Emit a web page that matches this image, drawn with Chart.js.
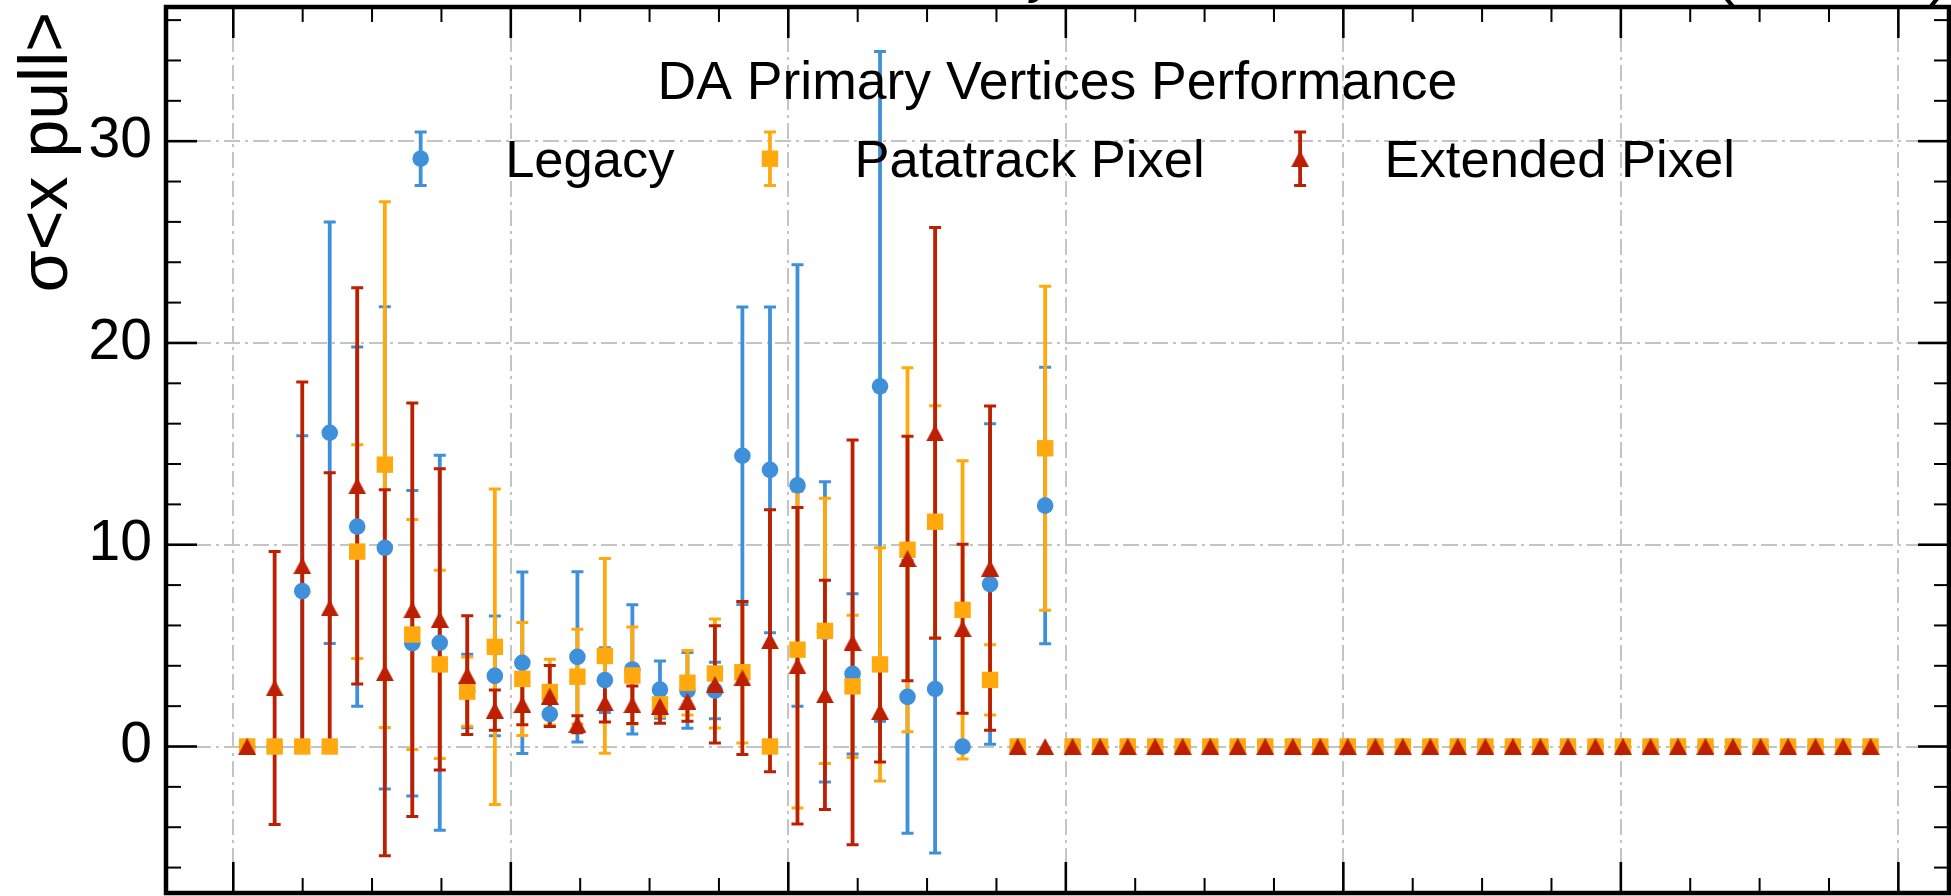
<!DOCTYPE html>
<html>
<head>
<meta charset="utf-8">
<title>DA Primary Vertices Performance</title>
<script src="https://cdn.jsdelivr.net/npm/chart.js@4.4.1/dist/chart.umd.min.js"></script>
<style>
  html, body { margin: 0; padding: 0; background: #fff; }
  #wrap { width: 1951px; height: 896px; }
</style>
</head>
<body>
<div id="wrap"><canvas id="pvChart" width="1951" height="896"></canvas></div>
<script>
// --- DATA ---
const binCenters = [
  1.00, 2.98, 4.97, 6.95, 8.93, 10.92, 12.90, 14.88, 16.86, 18.85,
  20.83, 22.81, 24.80, 26.78, 28.76, 30.75, 32.73, 34.71, 36.69, 38.68,
  40.66, 42.64, 44.63, 46.61, 48.59, 50.58, 52.56, 54.54, 56.53, 58.51,
  60.49, 62.47, 64.46, 66.44, 68.42, 70.41, 72.39, 74.37, 76.36, 78.34,
  80.32, 82.31, 84.29, 86.27, 88.25, 90.24, 92.22, 94.20, 96.19, 98.17,
  100.15, 102.14, 104.12, 106.10, 108.08, 110.07, 112.05, 114.03, 116.02, 118.00
];

const legacyVals = [
  0, 0, 7.7, 15.55, 10.9, 9.85, 5.12, 5.14, 2.75, 3.5,
  4.15, 1.6, 4.44, 3.29, 3.82, 2.82, 2.78, 2.77, 14.41, 13.71,
  12.94, 5.68, 3.6, 17.85, 2.46, 2.85, 0, 8.05, 0, 11.94,
  0, 0, 0, 0, 0, 0, 0, 0, 0, 0,
  0, 0, 0, 0, 0, 0, 0, 0, 0, 0,
  0, 0, 0, 0, 0, 0, 0, 0, 0, 0
];
const legacyErr = [
  0, 0, 7.7, 10.45, 8.9, 11.95, 7.57, 9.29, 1.82, 2.97,
  4.5, 0.6, 4.22, 1.61, 3.2, 1.42, 1.88, 1.4, 7.37, 8.07,
  10.94, 7.44, 3.97, 16.6, 6.76, 8.13, 0, 7.94, 0, 6.85,
  0, 0, 0, 0, 0, 0, 0, 0, 0, 0,
  0, 0, 0, 0, 0, 0, 0, 0, 0, 0,
  0, 0, 0, 0, 0, 0, 0, 0, 0, 0
];

const patatrackVals = [
  0, 0, 0, 0, 9.66, 13.97, 5.55, 4.07, 2.72, 4.94,
  3.35, 2.7, 3.46, 4.49, 3.52, 2.09, 3.16, 3.62, 3.68, 0,
  4.8, 5.73, 2.98, 4.07, 9.75, 11.14, 6.77, 3.3, 0, 14.78,
  0, 0, 0, 0, 0, 0, 0, 0, 0, 0,
  0, 0, 0, 0, 0, 0, 0, 0, 0, 0,
  0, 0, 0, 0, 0, 0, 0, 0, 0, 0
];
const patatrackErr = [
  0, 0, 0, 0, 5.3, 13.03, 5.7, 4.66, 1.72, 7.82,
  2.8, 1.63, 2.35, 4.83, 2.4, 0.6, 1.6, 2.7, 3.5, 0,
  7.85, 6.57, 3.53, 5.78, 9.02, 5.75, 7.39, 1.74, 0, 8.03,
  0, 0, 0, 0, 0, 0, 0, 0, 0, 0,
  0, 0, 0, 0, 0, 0, 0, 0, 0, 0,
  0, 0, 0, 0, 0, 0, 0, 0, 0, 0
];

const extendedVals = [
  0, 2.9, 8.96, 6.87, 12.92, 3.66, 6.78, 6.3, 3.54, 1.8,
  2.08, 2.5, 1.1, 2.16, 2.07, 2.0, 2.25, 3.08, 3.4, 5.24,
  4.0, 2.56, 5.16, 1.73, 9.32, 15.54, 5.84, 8.84, 0, 0,
  0, 0, 0, 0, 0, 0, 0, 0, 0, 0,
  0, 0, 0, 0, 0, 0, 0, 0, 0, 0,
  0, 0, 0, 0, 0, 0, 0, 0, 0, 0
];
const extendedErr = [
  0, 6.76, 9.1, 6.7, 9.82, 9.07, 10.25, 7.47, 2.94, 1.0,
  1.0, 1.51, 0.42, 0.95, 0.93, 0.85, 1.0, 2.9, 3.79, 6.49,
  7.84, 5.68, 10.03, 2.5, 6.06, 10.18, 4.19, 8.03, 0, 0,
  0, 0, 0, 0, 0, 0, 0, 0, 0, 0,
  0, 0, 0, 0, 0, 0, 0, 0, 0, 0,
  0, 0, 0, 0, 0, 0, 0, 0, 0, 0
];

const xMajorTicks = [0, 20, 40, 60, 80, 100, 120];
const yMajorTicks = [0, 10, 20, 30];

// --- STYLE ---
const FONT = "'Liberation Sans', Arial, sans-serif";
const BLUE = '#3f90da', ORANGE = '#ffa90e', RED = '#bd1f01';
const GRID = '#c4c4c4';

function triangleMarker(color) {
  const c = document.createElement('canvas');
  c.width = 18; c.height = 17;
  const g = c.getContext('2d');
  g.fillStyle = color;
  g.beginPath();
  g.moveTo(9, 0); g.lineTo(18, 17); g.lineTo(0, 17);
  g.closePath(); g.fill();
  return c;
}

const series = [
  { label: 'Legacy', vals: legacyVals, errs: legacyErr, color: BLUE, style: 'circle', radius: 8.3 },
  { label: 'Patatrack Pixel', vals: patatrackVals, errs: patatrackErr, color: ORANGE, style: 'rect', radius: 11.6 },
  { label: 'Extended Pixel', vals: extendedVals, errs: extendedErr, color: RED, style: triangleMarker(RED), radius: 9 }
];

function drawMarker(ctx, s, x, y) {
  ctx.fillStyle = s.color;
  if (s.style === 'circle') {
    ctx.beginPath(); ctx.arc(x, y, s.radius, 0, Math.PI * 2); ctx.fill();
  } else if (s.style === 'rect') {
    const h = s.radius * Math.SQRT1_2;
    ctx.fillRect(x - h, y - h, 2 * h, 2 * h);
  } else {
    ctx.drawImage(s.style, x - s.style.width / 2, y - s.style.height / 2);
  }
}

function errBar(ctx, x, yHi, yLo) {
  ctx.lineWidth = 3.8;
  ctx.beginPath(); ctx.moveTo(x, yHi); ctx.lineTo(x, yLo); ctx.stroke();
  ctx.lineWidth = 3;
  ctx.beginPath();
  ctx.moveTo(x - 6, yHi); ctx.lineTo(x + 6, yHi);
  ctx.moveTo(x - 6, yLo); ctx.lineTo(x + 6, yLo);
  ctx.stroke();
}

// --- PLUGINS ---
const errorBars = {
  id: 'errorBars',
  beforeDatasetsDraw(chart) {
    const { ctx, chartArea: a, scales: { y } } = chart;
    ctx.save();
    ctx.beginPath(); ctx.rect(a.left, a.top, a.right - a.left, a.bottom - a.top); ctx.clip();
    series.forEach((s, di) => {
      const meta = chart.getDatasetMeta(di);
      ctx.strokeStyle = s.color;
      meta.data.forEach((pt, i) => {
        const e = s.errs[i];
        if (!e) return;
        errBar(ctx, pt.x, y.getPixelForValue(s.vals[i] + e), y.getPixelForValue(s.vals[i] - e));
      });
    });
    ctx.restore();
  }
};

const legendBox = {
  id: 'legendBox',
  afterDatasetsDraw(chart) {
    const { ctx, chartArea: a } = chart;
    const cx = (a.left + a.right) / 2;
    ctx.save();
    ctx.fillStyle = '#000';
    ctx.font = `53.5px ${FONT}`;
    ctx.textBaseline = 'alphabetic';
    ctx.textAlign = 'center';
    ctx.fillText('DA Primary Vertices Performance', cx, 99);

    ctx.font = `52.5px ${FONT}`;
    const handleLen = 81, textPad = 44, colGap = 55, yMid = 158.7;
    const widths = series.map(s => ctx.measureText(s.label).width);
    const total = widths.reduce((t, w) => t + handleLen + textPad + w, 0) + colGap * (series.length - 1);
    let x = cx - total / 2;
    ctx.textAlign = 'left';
    series.forEach((s, i) => {
      const hx = x + handleLen / 2;
      ctx.strokeStyle = s.color;
      errBar(ctx, hx, yMid - 26.8, yMid + 26.8);
      drawMarker(ctx, s, hx, yMid);
      ctx.fillStyle = '#000';
      ctx.fillText(s.label, x + handleLen + textPad, 176.7);
      x += handleLen + textPad + widths[i] + colGap;
    });
    ctx.restore();
  }
};

const frame = {
  id: 'frame',
  afterDraw(chart) {
    const { ctx, chartArea: a, scales: { x, y } } = chart;
    ctx.save();
    ctx.fillStyle = '#000';

    // experiment labels above the axes (mostly cut off by the page edge)
    ctx.textBaseline = 'alphabetic';
    ctx.font = `bold 62px ${FONT}`;
    ctx.textAlign = 'left';
    ctx.fillText('CMS', a.left, -7);
    ctx.font = `italic 50px ${FONT}`;
    ctx.textAlign = 'right';
    ctx.fillText('Simulation Preliminary', 1056, -7);
    ctx.font = `62px ${FONT}`;
    ctx.fillText('(14 TeV)', a.right, -7);

    // y label
    ctx.save();
    ctx.translate(67, 12);
    ctx.rotate(-Math.PI / 2);
    ctx.font = `68px ${FONT}`;
    ctx.textAlign = 'right';
    ctx.fillText('σ<x pull>', 0, 0);
    ctx.restore();

    // inward ticks on all four sides
    ctx.strokeStyle = '#000';
    const tick = (x1, y1, x2, y2, w) => {
      ctx.lineWidth = w;
      ctx.beginPath(); ctx.moveTo(x1, y1); ctx.lineTo(x2, y2); ctx.stroke();
    };
    for (let v = -5; v <= 125; v += 5) {
      const px = x.getPixelForValue(v);
      if (px < a.left + 2 || px > a.right - 2) continue;
      const major = v % 20 === 0;
      const len = major ? 31 : 15;
      tick(px, a.bottom, px, a.bottom - len, major ? 2.6 : 2);
      tick(px, a.top, px, a.top + len, major ? 2.6 : 2);
    }
    for (let v = -8; v <= 38; v += 2) {
      const py = y.getPixelForValue(v);
      if (py < a.top + 2 || py > a.bottom - 2) continue;
      const major = v % 10 === 0;
      const len = major ? 31 : 15;
      tick(a.left, py, a.left + len, py, major ? 2.6 : 2);
      tick(a.right, py, a.right - len, py, major ? 2.6 : 2);
    }

    // spines
    ctx.lineWidth = 4.5;
    ctx.strokeRect(a.left, a.top, a.right - a.left, a.bottom - a.top);
    ctx.restore();
  }
};

// --- CHART ---
new Chart(document.getElementById('pvChart'), {
  type: 'scatter',
  data: {
    datasets: series.map((s, k) => ({
      label: s.label,
      data: binCenters.map((bx, i) => ({ x: bx, y: s.vals[i] })),
      backgroundColor: s.color,
      borderColor: s.color,
      pointStyle: s.style,
      pointRadius: s.radius,
      pointHoverRadius: s.radius,
      pointBorderWidth: 0,
      order: series.length - k
    }))
  },
  options: {
    responsive: false,
    animation: false,
    devicePixelRatio: 1,
    events: [],
    layout: { autoPadding: false, padding: { left: 0, top: 7, right: 2, bottom: 3 } },
    plugins: { legend: { display: false }, tooltip: { enabled: false } },
    scales: {
      x: {
        type: 'linear', min: -4.85, max: 123.65,
        afterBuildTicks: s => { s.ticks = xMajorTicks.map(v => ({ value: v })); },
        afterFit: s => { s.height = 0; s.paddingLeft = 0; s.paddingRight = 0; },
        ticks: { display: false },
        grid: { color: GRID, lineWidth: 2, drawTicks: false },
        border: { display: false, dash: [16, 5, 3, 5] }
      },
      y: {
        type: 'linear', min: -7.26, max: 36.65,
        afterBuildTicks: s => { s.ticks = yMajorTicks.map(v => ({ value: v })); },
        afterFit: s => { s.width = 166; s.paddingTop = 0; s.paddingBottom = 0; },
        ticks: { color: '#000', font: { family: FONT, size: 57 }, padding: 14 },
        grid: { color: GRID, lineWidth: 2, drawTicks: false },
        border: { display: false, dash: [16, 5, 3, 5] }
      }
    }
  },
  plugins: [errorBars, legendBox, frame]
});
</script>
</body>
</html>
